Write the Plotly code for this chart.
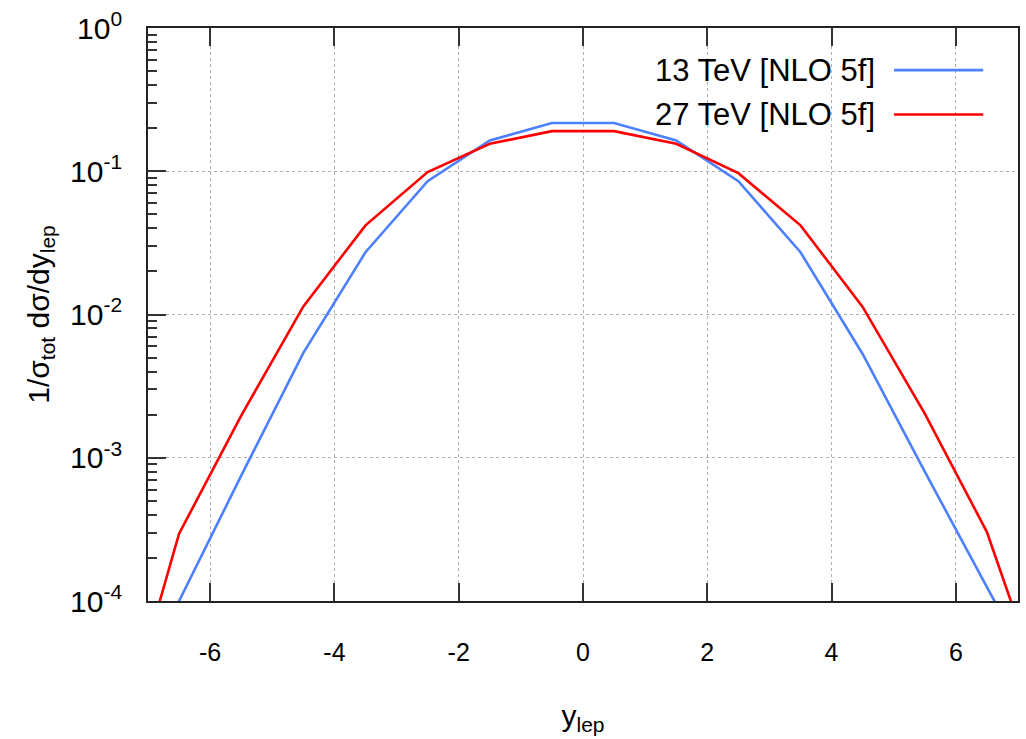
import plotly.graph_objects as go

# ---- data ----
y_lep = [-7.5, -6.5, -5.5, -4.5, -3.5, -2.5, -1.5, -0.5, 0.5, 1.5, 2.5, 3.5, 4.5, 5.5, 6.5, 7.5]
nlo_13tev = [2.0e-5, 1.0e-4, 7.5e-4, 5.4e-3, 2.72e-2, 0.0853, 0.164, 0.217,
             0.217, 0.164, 0.0853, 0.0272, 5.3e-3, 8.0e-4, 1.25e-4, 2.0e-5]
nlo_27tev = [9.0e-6, 2.95e-4, 1.97e-3, 0.0114, 0.0419, 0.0986, 0.1555, 0.1905,
             0.1905, 0.1555, 0.097, 0.0419, 0.0113, 2.03e-3, 3.03e-4, 1.7e-5]
series_names = ["13 TeV [NLO 5f]", "27 TeV [NLO 5f]"]
series_colors = ["#4d80ff", "#ff0000"]

x_ticks = [-6, -4, -2, 0, 2, 4, 6]
x_ticktext = ["-6", "-4", "-2", "0", "2", "4", "6"]
y_ticks = [1e-4, 1e-3, 1e-2, 1e-1, 1e0]
y_ticktext = ["10<sup>-4</sup>", "10<sup>-3</sup>", "10<sup>-2</sup>", "10<sup>-1</sup>", "10<sup>0</sup>"]
y_minor = [m * 10 ** e for e in range(-4, 0) for m in range(2, 10)]

FONT = "Liberation Sans, Arial, Helvetica, sans-serif"

fig = go.Figure()
for yv, name, col in zip([nlo_13tev, nlo_27tev], series_names, series_colors):
    fig.add_trace(go.Scatter(x=y_lep, y=yv, mode="lines", name=name,
                             line=dict(color=col, width=2.6), showlegend=False))

# manual legend (text left of sample line, as in reference)
leg_y = [0.9265, 0.849]
for name, col, ly in zip(series_names, series_colors, leg_y):
    fig.add_annotation(xref="paper", yref="paper", x=0.838, y=ly, text=name,
                       showarrow=False, xanchor="right", yanchor="middle",
                       font=dict(family=FONT, size=31, color="black"))
    fig.add_shape(type="line", xref="paper", yref="paper", x0=0.8575, x1=0.960,
                  y0=ly, y1=ly, line=dict(color=col, width=2.6))

fig.update_layout(
    width=1026, height=739,
    margin=dict(l=147.5, r=6, t=27.5, b=138),
    paper_bgcolor="white", plot_bgcolor="white",
    font=dict(family=FONT, color="black"),
)
fig.update_xaxes(
    range=[-7, 7], tickvals=x_ticks, ticktext=x_ticktext, ticks="inside", ticklen=18, tickwidth=1.5,
    tickcolor="#333", showline=True, linecolor="#222", linewidth=1.8, mirror="ticks",
    showgrid=True, gridcolor="#b0b0b0", griddash="dot", gridwidth=1, zeroline=False,
    tickfont=dict(size=25, family=FONT), ticklabelstandoff=28,
    title=dict(text="y<sub>lep</sub>", font=dict(size=30, family=FONT), standoff=40),
)
fig.update_yaxes(
    type="log", range=[-4, 0], tickvals=y_ticks, ticktext=y_ticktext,
    ticks="inside", ticklen=18, tickwidth=1.5, tickcolor="#333",
    showline=True, linecolor="#222", linewidth=1.8, mirror=True,
    showgrid=True, gridcolor="#b0b0b0", griddash="dot", gridwidth=1, zeroline=False,
    tickfont=dict(size=30, family=FONT), ticklabelstandoff=18,
    minor=dict(tickmode="array", tickvals=y_minor, ticks="inside", ticklen=9,
               tickwidth=1.5, tickcolor="#333", showgrid=False),
    title=dict(text="1/σ<sub>tot</sub> dσ/dy<sub>lep</sub>", font=dict(size=30, family=FONT), standoff=12),
)

fig.write_html("out.html")
